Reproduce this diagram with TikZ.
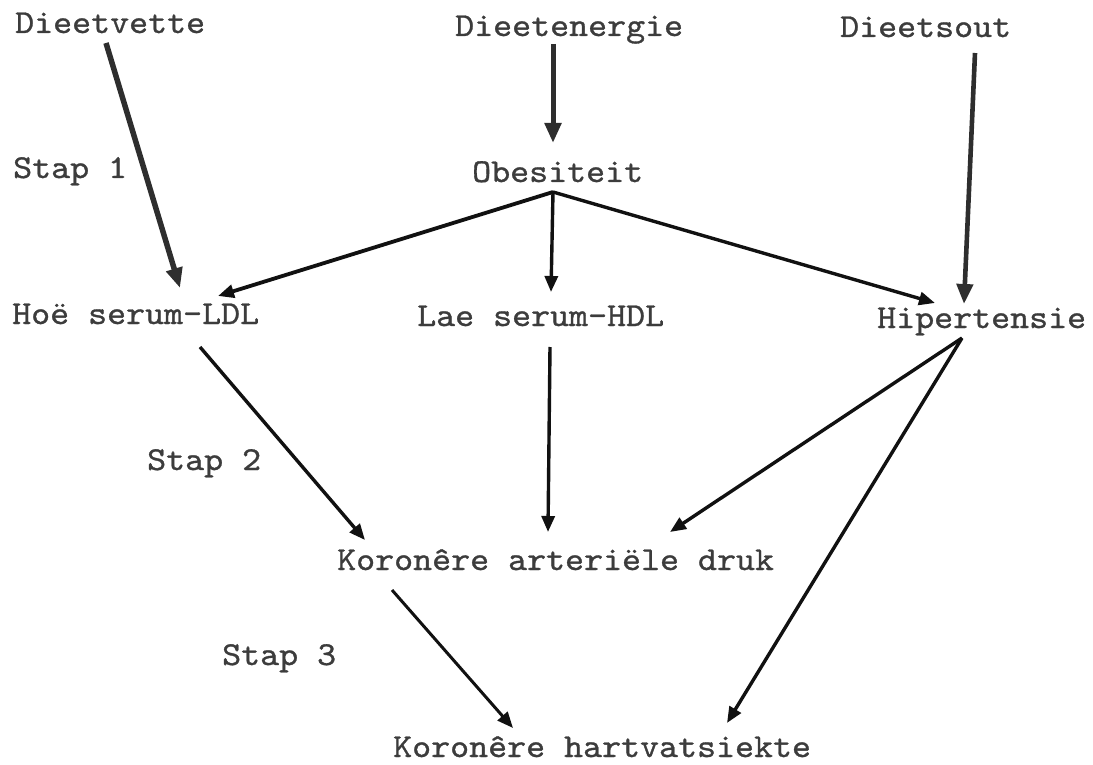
\documentclass[tikz,border=0pt]{standalone}
\usepackage{fontspec}
% typewriter face, slightly widened and thickened
\newfontfamily\typewriter{lmmono10-regular.otf}[FakeStretch=1.08,FakeBold=0.9]
\usetikzlibrary{arrows.meta,calc}
\definecolor{ink}{HTML}{3C3C3C}
\definecolor{heavyink}{HTML}{2E2E2E}
\definecolor{lineink}{HTML}{111111}
\begin{document}
\begin{tikzpicture}[x=1pt,y=-1pt,
  lbl/.style={anchor=base west,inner sep=0pt,text=ink,
    font=\typewriter\fontsize{33.5}{38}\selectfont},
  heavy/.style={draw=heavyink,line width=5.5pt,
    -{Triangle[length=20pt,width=16pt]}},
  light/.style={draw=lineink,line width=3.4pt,
    -{Triangle[length=16pt,width=13pt]}}]
\useasboundingbox (0,0) rectangle (1093,765);

% variables and steps
\node[lbl] (dvet)  at (15,33)   {Dieetvette};
\node[lbl] (denr)  at (455,36)  {Dieetenergie};
\node[lbl] (dsout) at (840,37)  {Dieetsout};
\node[lbl] (stap1) at (13,178)  {Stap 1};
\node[lbl] (obes)  at (472,182) {Obesiteit};
\node[lbl] (hoe)   at (12,324)  {Hoë serum-LDL};
\node[lbl] (lae)   at (417,326) {Lae serum-HDL};
\node[lbl] (hip)   at (877,328) {Hipertensie};
\node[lbl] (stap2) at (147,470) {Stap 2};
\node[lbl] (kart)  at (337,570) {Koronêre arteriële druk};
\node[lbl] (stap3) at (222,665) {Stap 3};
\node[lbl] (khart) at (393,757) {Koronêre hartvatsiekte};

% dietary inputs
\draw[heavy] ($(dvet.base west)+(91,10)$)   -- ($(hoe.base west)+(168,-36)$);
\draw[heavy,line width=5pt] ($(denr.base west)+(98,8)$) -- ($(obes.base west)+(81,-39)$);
\draw[heavy,line width=4.6pt] ($(dsout.base west)+(135,16)$) -- ($(hip.base west)+(87,-24)$);

% obesity effects
\draw[light,line width=3.8pt] ($(obes.base west)+(81,10)$) -- ($(hoe.base west)+(206,-28)$);
\draw[light] ($(obes.base west)+(81,10)$) -- ($(lae.base west)+(134,-34)$);
\draw[light] ($(obes.base west)+(81,10)$) -- ($(hip.base west)+(58,-25)$);

% towards coronary arterial pressure
\draw[light] ($(hoe.base west)+(188,23)$) -- ($(kart.base west)+(28,-30)$);
\draw[light] ($(lae.base west)+(133,21)$) -- ($(kart.base west)+(211,-38)$);
\draw[light] ($(hip.base west)+(85,10)$)  -- ($(kart.base west)+(333,-38)$);

% towards coronary heart disease
\draw[light] ($(hip.base west)+(85,10)$)  -- ($(khart.base west)+(334,-34)$);
\draw[light,line width=3pt] ($(kart.base west)+(55,20)$) -- ($(khart.base west)+(120,-29)$);
\end{tikzpicture}
\end{document}
